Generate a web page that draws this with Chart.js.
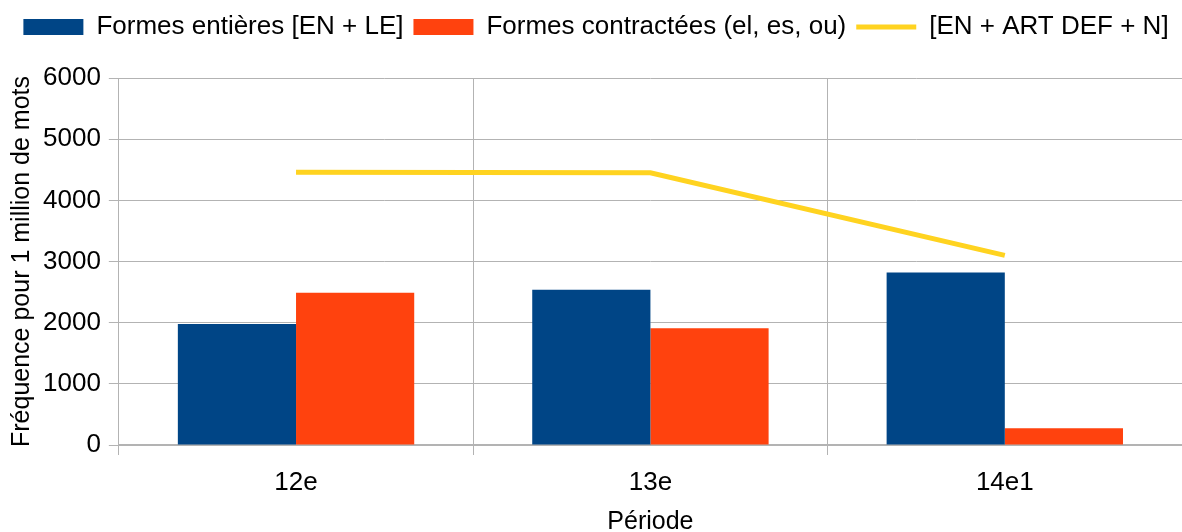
<!DOCTYPE html>
<html>
<head>
<meta charset="utf-8">
<script src="https://cdn.jsdelivr.net/npm/chart.js@4"></script>
<style>
  html, body { margin: 0; padding: 0; background: #fff; }
  #wrap { width: 1182px; height: 532px; }
</style>
</head>
<body>
<div id="wrap"><canvas id="myChart"></canvas></div>
<script>
var periodes = ["12e", "13e", "14e1"];
var formesEntieres = [1980, 2540, 2820];
var formesContractees = [2490, 1910, 275];
var enArtDefN = [4460, 4450, 3100];
var yTicks = [0, 1000, 2000, 3000, 4000, 5000, 6000];

Chart.defaults.font.family = "'Liberation Sans', Arial, sans-serif";
Chart.defaults.font.size = 26;
Chart.defaults.color = "#000";

// more room under the legend
var legendSpace = {
    id: 'legendSpace',
    beforeInit: function (chart) {
        var origFit = chart.legend.fit;
        chart.legend.fit = function () {
            origFit.bind(chart.legend)();
            this.height += 28;
        };
    }
};

var ctx = document.getElementById("myChart");
var myChart = new Chart(ctx, {
    type: 'bar',
    data: {
        labels: periodes,
        datasets: [
            {
                label: "Formes entières [EN + LE]",
                data: formesEntieres,
                backgroundColor: "#004586",
                borderWidth: 0,
                pointStyle: 'rect',
                categoryPercentage: 0.667,
                barPercentage: 1.0
            },
            {
                label: "Formes contractées (el, es, ou)",
                data: formesContractees,
                backgroundColor: "#ff420e",
                borderWidth: 0,
                pointStyle: 'rect',
                categoryPercentage: 0.667,
                barPercentage: 1.0
            },
            {
                type: 'line',
                label: "[EN + ART DEF + N]",
                data: enArtDefN,
                borderColor: "#ffd320",
                backgroundColor: "#ffd320",
                borderWidth: 5,
                pointRadius: 0,
                pointStyle: 'line',
                fill: false,
                tension: 0
            }
        ]
    },
    plugins: [legendSpace],
    options: {
        responsive: true,
        maintainAspectRatio: false,
        animation: false,
        layout: { padding: { top: 4, left: 10, right: 0, bottom: 0 } },
        plugins: {
            tooltip: { enabled: false },
            legend: {
                position: 'top',
                labels: {
                    usePointStyle: true,
                    pointStyleWidth: 60,
                    boxHeight: 16,
                    padding: 10,
                    font: { size: 26 }
                }
            }
        },
        scales: {
            x: {
                grid: { color: "#b3b3b3", offset: true, tickLength: 10 },
                border: { color: "#b3b3b3", width: 2 },
                ticks: { padding: 15, font: { size: 26, lineHeight: 1.0 } },
                title: { display: true, text: "Période", font: { size: 25, lineHeight: 0.8 }, padding: { top: 1, bottom: 0 } }
            },
            y: {
                min: 0,
                max: 6000,
                afterBuildTicks: function (axis) {
                    axis.ticks = yTicks.map(function (v) { return { value: v }; });
                },
                grid: { color: "#b3b3b3", tickLength: 10 },
                border: { color: "#b3b3b3" },
                ticks: {
                    padding: 8,
                    callback: function (v) { return String(v); }
                },
                title: { display: true, text: "Fréquence pour 1 million de mots", font: { size: 25, lineHeight: 1.0 }, padding: { top: 0, bottom: 0 } }
            }
        }
    }
});
</script>
</body>
</html>
